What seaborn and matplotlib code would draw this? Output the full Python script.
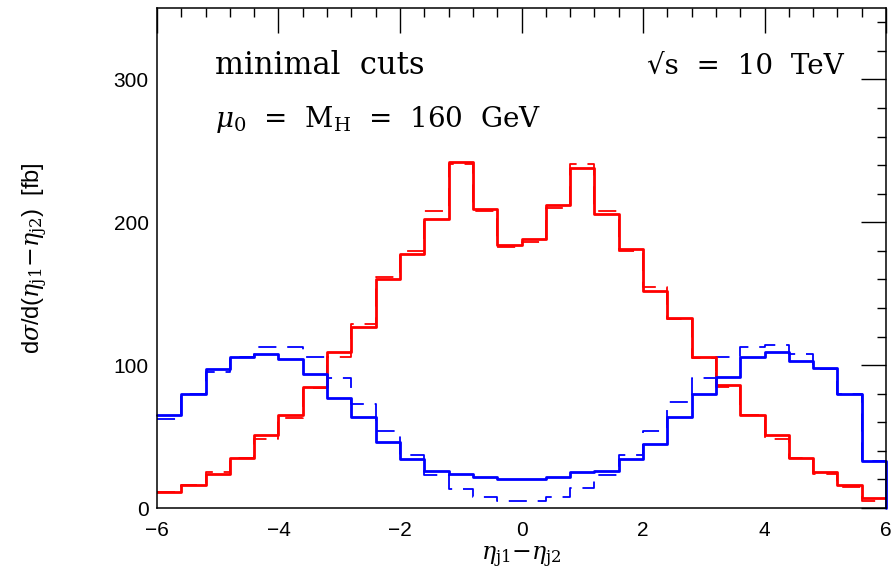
import numpy as np
import pandas as pd
import seaborn as sns
import matplotlib.pyplot as plt
from matplotlib.ticker import MultipleLocator

# bin edges of the eta_j1 - eta_j2 histogram (30 bins, width 0.4)
edges = np.round(np.arange(-6.0, 6.01, 0.4), 2)

# red curves (solid + dashed)
red_solid = [11, 16, 24, 35, 51, 65, 85, 109, 127, 160,
             178, 202, 242, 209, 184, 188, 212, 238, 206, 181,
             152, 133, 106, 86, 65, 51, 35, 25, 16, 7]
red_dash = [11, 16, 25, 35, 48, 63, 84, 106, 129, 162,
            180, 208, 241, 208, 183, 186, 210, 241, 208, 180,
            155, 132, 105, 85, 65, 48, 35, 24, 15, 5]

# blue curves (solid + dashed)
blue_solid = [65, 80, 97, 106, 108, 104, 94, 77, 64, 46,
              34, 26, 24, 22, 20, 20, 22, 25, 26, 34,
              45, 64, 80, 92, 106, 109, 103, 98, 80, 33]
blue_dash = [62, 80, 95, 106, 113, 113, 106, 91, 73, 54,
             37, 23, 13, 7.5, 5, 5, 7.5, 14, 23, 37,
             54, 74, 91, 106, 113, 114, 108, 97, 80, 33]

sns.set_style("white")
plt.rcParams["font.family"] = ["Liberation Sans", "DejaVu Sans"]
plt.rcParams["mathtext.fontset"] = "dejavuserif"
plt.rcParams["text.color"] = "black"
plt.rcParams["axes.labelcolor"] = "black"

fig = plt.figure(figsize=(8.91, 5.75), dpi=100)
ax = fig.add_axes([0.1762, 0.1165, 0.8182, 0.8695])

def steps(vals, drop=False):
    x = list(edges)
    y = list(vals) + [vals[-1]]
    if drop:
        x = x + [edges[-1]]
        y = y + [0]
    return pd.DataFrame({"x": x, "y": y})

dash = (0, (10, 6))
sns.lineplot(data=steps(red_dash), x="x", y="y", ax=ax, estimator=None, sort=False,
             drawstyle="steps-post", color="#ff0000", lw=1.3, linestyle=dash)
sns.lineplot(data=steps(blue_dash), x="x", y="y", ax=ax, estimator=None, sort=False,
             drawstyle="steps-post", color="#0000ff", lw=1.3, linestyle=dash)
sns.lineplot(data=steps(red_solid), x="x", y="y", ax=ax, estimator=None, sort=False,
             drawstyle="steps-post", color="#ff0000", lw=2.0)
sns.lineplot(data=steps(blue_solid, drop=True), x="x", y="y", ax=ax, estimator=None,
             sort=False, drawstyle="steps-post", color="#0000ff", lw=2.0, clip_on=False)

ax.set_xlim(-6, 6)
ax.set_ylim(0, 350)
ax.xaxis.set_major_locator(MultipleLocator(2))
ax.xaxis.set_minor_locator(MultipleLocator(0.4))
ax.yaxis.set_major_locator(MultipleLocator(100))
ax.yaxis.set_minor_locator(MultipleLocator(20))
ax.tick_params(which="both", direction="in", top=True, right=True, colors="black",
               labelsize=15)
ax.tick_params(which="major", length=18, width=1.0)
ax.tick_params(which="minor", length=6.5, width=1.0)
ax.tick_params(axis="x", pad=9)
ax.tick_params(axis="y", pad=6)
ax.xaxis.set_major_formatter(plt.FuncFormatter(lambda v, p: f"{v:g}".replace("-", "\u2212")))
for s in ax.spines.values():
    s.set_color("black")
    s.set_linewidth(1.1)

ax.set_xlabel(r"$\eta_{\rm j1}$$-$$\eta_{\rm j2}$", fontsize=17, labelpad=4)
ax.set_ylabel(r"d$\sigma$/d($\eta_{\rm j1}$$-$$\eta_{\rm j2}$)  [fb]", fontsize=17,
              labelpad=46)

ax.text(-5.05, 304, "minimal  cuts", family="DejaVu Serif", fontsize=22)
ax.text(5.3, 304, "\u221as  =  10  TeV", family="DejaVu Serif", fontsize=20, ha="right")
ax.text(-5.05, 267, r"$\mu_0$  =  M$_{\rm H}$  =  160  GeV", family="DejaVu Serif",
        fontsize=20)

fig.savefig("out.png", dpi=100)
